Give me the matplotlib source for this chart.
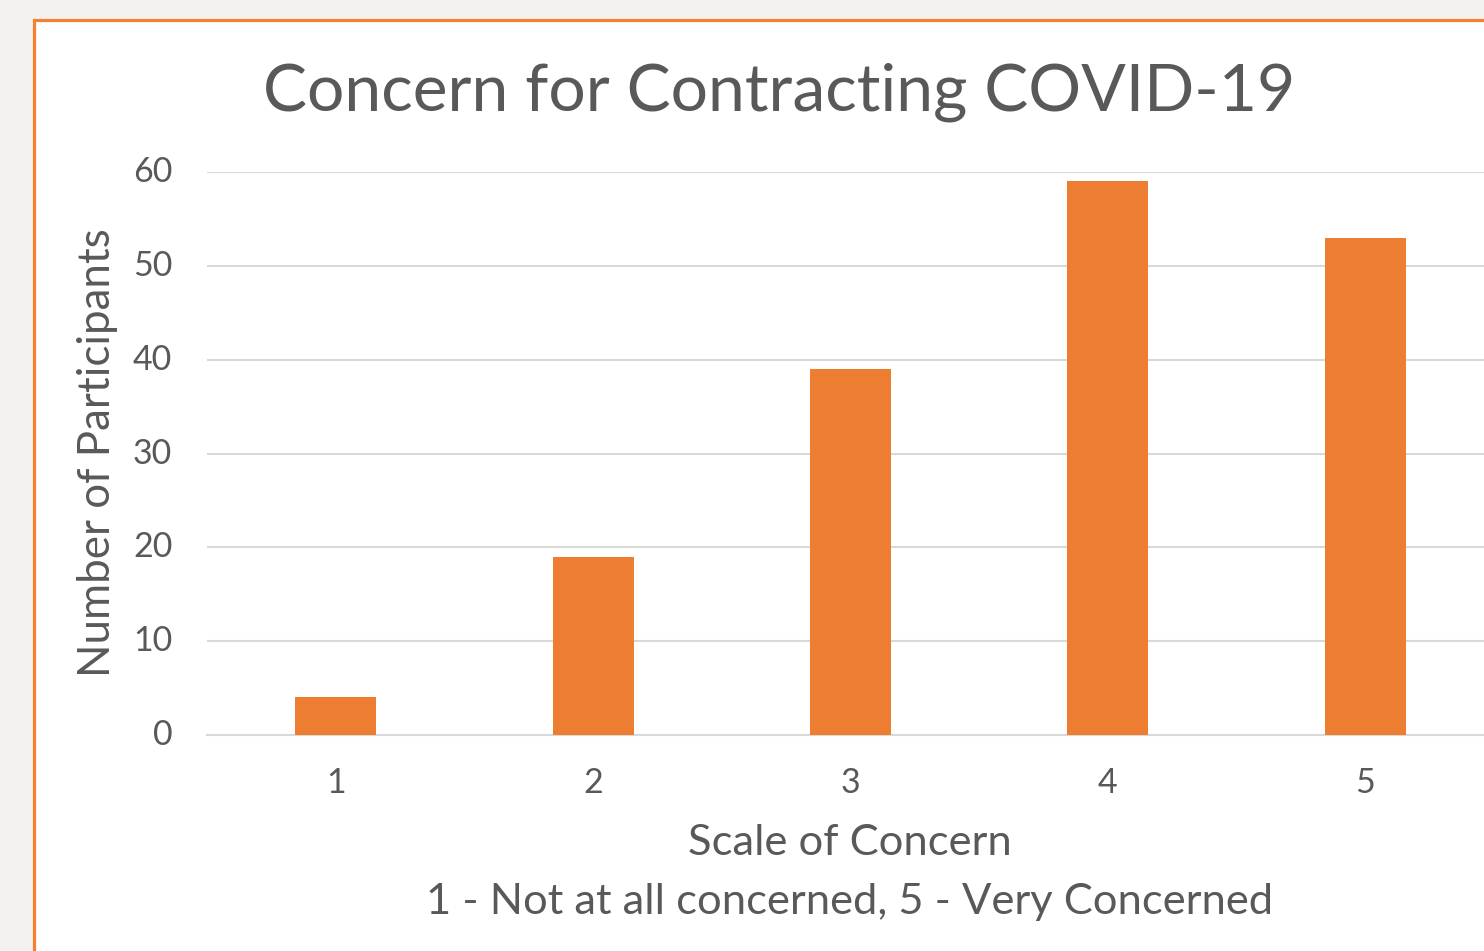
import matplotlib
matplotlib.use("Agg")
import matplotlib.pyplot as plt
from matplotlib.patches import Rectangle

categories = ["1", "2", "3", "4", "5"]
participants = [4, 19, 39, 59, 53]
yticks = [0, 10, 20, 30, 40, 50, 60]

W, H = 1484, 951
fig = plt.figure(figsize=(W / 100, H / 100), dpi=100, facecolor="#f4f2f1")
plt.rcParams['font.family'] = ['Lato', 'DejaVu Sans']

# white panel with orange frame
frame = Rectangle((34 / W, -0.05), 1.2, 1 - 20 / H + 0.05, transform=fig.transFigure,
                  facecolor="white", edgecolor="#F4812F", linewidth=2.3, zorder=0)
fig.patches.append(frame)

left, right = 207, 1494
top, bottom = 172, 735
ax = fig.add_axes([left / W, 1 - bottom / H, (right - left) / W, (bottom - top) / H])
ax.set_facecolor("none")
ax.set_zorder(2)

x = list(range(1, len(categories) + 1))
ax.bar(x, participants, width=0.315, color="#ED7D31", zorder=3)
ax.set_xlim(0.5, 5.5)
ax.set_ylim(0, 60)
ax.set_yticks(yticks)
ax.set_xticks(x)
ax.set_xticklabels(categories)
ax.grid(axis="y", color="#d9d9d9", linewidth=1.5, zorder=0)
ax.set_axisbelow(True)
for s in ["top", "right", "left"]:
    ax.spines[s].set_visible(False)
ax.spines["bottom"].set_color("#d9d9d9")
ax.spines["bottom"].set_linewidth(1.5)
ax.tick_params(axis="both", length=0, labelsize=24.5, colors="#595959")
ax.tick_params(axis="y", pad=25)
ax.tick_params(axis="x", pad=23)
for lbl in ax.get_yticklabels():
    lbl.set_verticalalignment("center")

fig.text(779 / W, 1 - 92 / H, "Concern for Contracting COVID-19", ha="center", va="center",
         fontsize=47.5, color="#595959", zorder=3)
fig.text(850 / W, 1 - 843 / H, "Scale of Concern", ha="center", va="center",
         fontsize=31.3, color="#595959", zorder=3)
fig.text(850 / W, 1 - 902 / H, "1 - Not at all concerned, 5 - Very Concerned", ha="center",
         va="center", fontsize=31.3, color="#595959", zorder=3)
fig.text(98 / W, 1 - 453 / H, "Number of Participants", ha="center", va="center",
         rotation=90, fontsize=31.6, color="#595959", zorder=3)

fig.savefig("out.png", dpi=100, facecolor=fig.get_facecolor())
